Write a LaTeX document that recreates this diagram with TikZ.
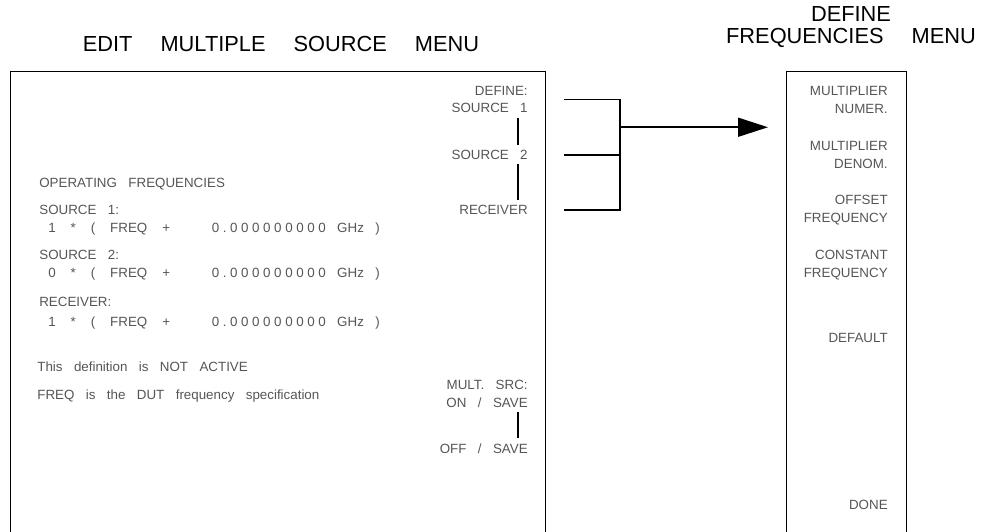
\documentclass[tikz,border=0pt]{standalone}
\usepackage{fontspec}
\setmainfont{Liberation Sans}
\usepackage{tikz}
\usetikzlibrary{arrows.meta,positioning,calc}
\definecolor{scrgray}{HTML}{555555}
\newcommand\scrsize{\fontsize{7.6}{10.2}\selectfont\spaceskip 6.5pt\relax}
\newcommand\ttlsize{\fontsize{12.4}{12.2}\selectfont\spaceskip 16pt\relax}
\newcommand\wdigits[1]{{\addfontfeature{LetterSpace=27}#1}}
\newcommand\fterm[1]{\makebox[93pt][l]{\spaceskip 8.5pt\relax #1}}

\begin{document}
\begin{tikzpicture}[
  scr/.style={font=\scrsize,inner sep=0pt,text height=5.4pt,text depth=0pt,text=scrgray,anchor=west},
  key/.style={font=\scrsize,inner sep=0pt,align=right,text=scrgray,anchor=east},
  ttl/.style={inner sep=0pt,align=center,font=\ttlsize},
  panel/.style={draw,line width=0.8pt,anchor=north west,minimum height=9.8cm},
  tick/.style={line width=0.6pt,shorten <=2.5pt,shorten >=3pt},
  brk/.style={line width=0.9pt},
  feed/.style={line width=0.9pt,-{Triangle[length=0.6cm,width=0.38cm]}}]
  \useasboundingbox (0,0) rectangle (19.64,10.62);
  % screens, open at the bottom edge
  \node[panel,minimum width=10.7cm] (msrc) at (0.2,9.2) {};
  \node[panel,minimum width=2.4cm] (dfreq) at (15.72,9.2) {};
  \node[ttl] (msrcT) at (5.62,9.74) {EDIT MULTIPLE SOURCE MENU};
  \node[ttl] (dfreqT) at (17.02,10.08) {DEFINE\\FREQUENCIES MENU};
  % softkeys of the multiple source menu
  \node[key] (kdef) at (10.56,8.63) {DEFINE:\\SOURCE 1};
  \node[key] (ksrc) at (10.56,7.52) {SOURCE 2};
  \node[key] (krcv) at (10.56,6.42) {RECEIVER};
  \node[key] (kon) at (10.56,2.74) {MULT. SRC:\\ON / SAVE};
  \node[key] (koff) at (10.56,1.64) {OFF / SAVE};
  \coordinate (tx) at (10.36,0);
  \draw[tick] (kdef.south -| tx) -- (ksrc.north -| tx);
  \draw[tick] (ksrc.south -| tx) -- (krcv.north -| tx);
  \draw[tick] (kon.south -| tx) -- (koff.north -| tx);
  % screen text
  \node[scr] (opf) at (0.78,6.96) {OPERATING FREQUENCIES};
  \node[scr] (s1) at (0.78,6.42) {SOURCE 1:};
  \node[scr] (f1) at (0.96,6.06) {\fterm{1 * ( FREQ +}\wdigits{0.000000000} GHz )};
  \node[scr] (s2) at (0.78,5.52) {SOURCE 2:};
  \node[scr] (f2) at (0.96,5.16) {\fterm{0 * ( FREQ +}\wdigits{0.000000000} GHz )};
  \node[scr] (rc) at (0.78,4.58) {RECEIVER:};
  \node[scr] (f3) at (0.96,4.18) {\fterm{1 * ( FREQ +}\wdigits{0.000000000} GHz )};
  \node[scr] (nact) at (0.74,3.28) {This definition is NOT ACTIVE};
  \node[scr] (dut) at (0.74,2.72) {FREQ is the DUT frequency specification};
  % softkeys of the define frequencies menu
  \node[key] (mnum) at (17.76,8.62) {MULTIPLIER\\NUMER.};
  \node[key] (mden) at (17.76,7.52) {MULTIPLIER\\DENOM.};
  \node[key] (ofs) at (17.76,6.41) {OFFSET\\FREQUENCY};
  \node[key] (cst) at (17.76,5.32) {CONSTANT\\FREQUENCY};
  \node[key] (dflt) at (17.76,3.86) {DEFAULT};
  \node[key] (done) at (17.76,0.52) {DONE};
  % bracket and arrow
  \coordinate (bx) at (11.28,0);
  \coordinate (spine) at (12.4,0);
  \coordinate (tip) at (15.36,0);
  \draw[brk] (kdef -| bx) -- (kdef -| spine) -- (krcv -| spine) -- (krcv -| bx);
  \draw[brk] (ksrc -| bx) -- (ksrc -| spine);
  \coordinate (fork) at ($(kdef -| spine)!0.5!(ksrc -| spine)$);
  \draw[feed] (fork) -- (fork -| tip);
\end{tikzpicture}
\end{document}
